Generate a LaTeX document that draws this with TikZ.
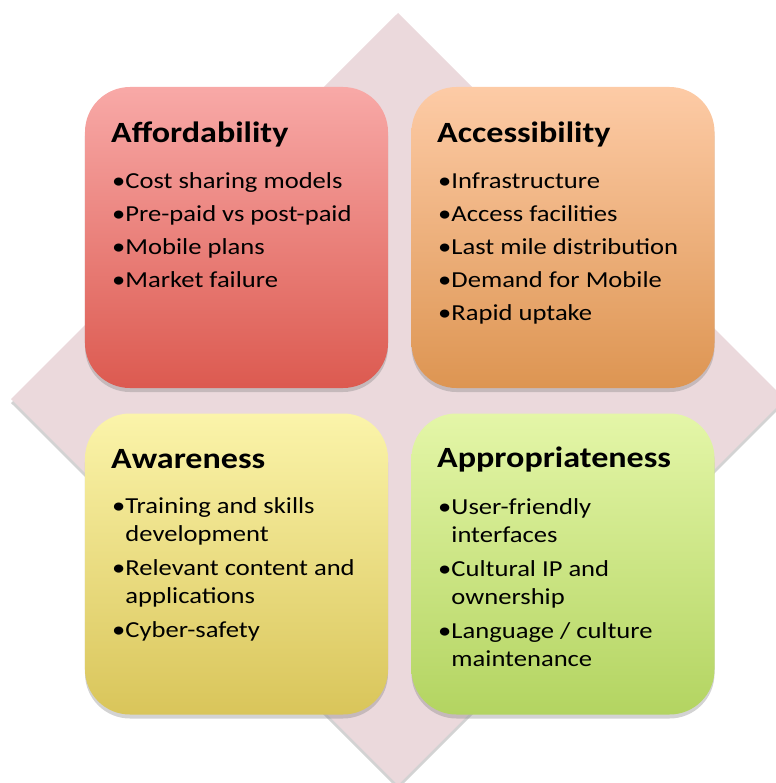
\documentclass[tikz,border=0pt]{standalone}
\usepackage{fontspec}
\setmainfont{Carlito}[FakeStretch=1.16]
\usetikzlibrary{shadows,positioning}
\definecolor{diamondpink}{HTML}{EBD9DC}
\definecolor{affordtop}{HTML}{F8A9A7}
\definecolor{affordbot}{HTML}{DC5A50}
\definecolor{accesstop}{HTML}{FDCBA6}
\definecolor{accessbot}{HTML}{DD9552}
\definecolor{awaretop}{HTML}{FBF4AA}
\definecolor{awarebot}{HTML}{D9C55A}
\definecolor{approtop}{HTML}{E4F6A8}
\definecolor{approbot}{HTML}{B3D461}
\tikzset{
  card/.style={rounded corners=45bp, minimum width=303bp, minimum height=301bp,
    inner sep=0pt, drop shadow={shadow xshift=0bp, shadow yshift=-4bp, opacity=0.35}},
  head/.style={anchor=base west, inner sep=0pt, font=\fontsize{29.5}{34}\selectfont\bfseries},
  items/.style={anchor=base west, inner sep=0pt, align=left, font=\fontsize{23}{28}\selectfont},
}
\newcommand{\bul}{\textbullet}
\newcommand{\ind}{\hphantom{\textbullet}}
\begin{document}
\begin{tikzpicture}[x=1bp,y=-1bp]
\useasboundingbox (0,0) rectangle (776,783);
% backdrop
\fill[diamondpink, drop shadow={shadow xshift=0bp, shadow yshift=-4bp, opacity=0.35}]
  (398,13) -- (785,399) -- (398,785) -- (11,399) -- cycle;
% the four cards
\node[card, top color=affordtop, bottom color=affordbot] (afford) at (236.5,237.5) {};
\node[card, top color=accesstop, bottom color=accessbot] (access) at (563,237.5) {};
\node[card, top color=awaretop, bottom color=awarebot] (aware) at (236.5,564) {};
\node[card, top color=approtop, bottom color=approbot] (appro) at (563,564) {};
% titles
\node[head] (affordT) at (111,142) {Affordability};
\node[head] (accessT) at (437,142) {Accessibility};
\node[head] (awareT) at (111,468) {Awareness};
\node[head] (approT) at (437,467) {Appropriateness};
% bullets (anchored on the last baseline)
\node[items] (affordL) at (112,287) {\bul Cost sharing models\\[5bp]
  \bul Pre-paid vs post-paid\\[5bp]
  \bul Mobile plans\\[5bp]
  \bul Market failure};
\node[items] (accessL) at (438,320) {\bul Infrastructure\\[5bp]
  \bul Access facilities\\[5bp]
  \bul Last mile distribution\\[5bp]
  \bul Demand for Mobile\\[5bp]
  \bul Rapid uptake};
\node[items] (awareL) at (112,637) {\bul Training and skills\\
  \ind development\\[6bp]
  \bul Relevant content and\\
  \ind applications\\[6bp]
  \bul Cyber-safety};
\node[items] (approL) at (438,666) {\bul User-friendly\\
  \ind interfaces\\[6bp]
  \bul Cultural IP and\\
  \ind ownership\\[6bp]
  \bul Language / culture\\
  \ind maintenance};
\end{tikzpicture}
\end{document}
